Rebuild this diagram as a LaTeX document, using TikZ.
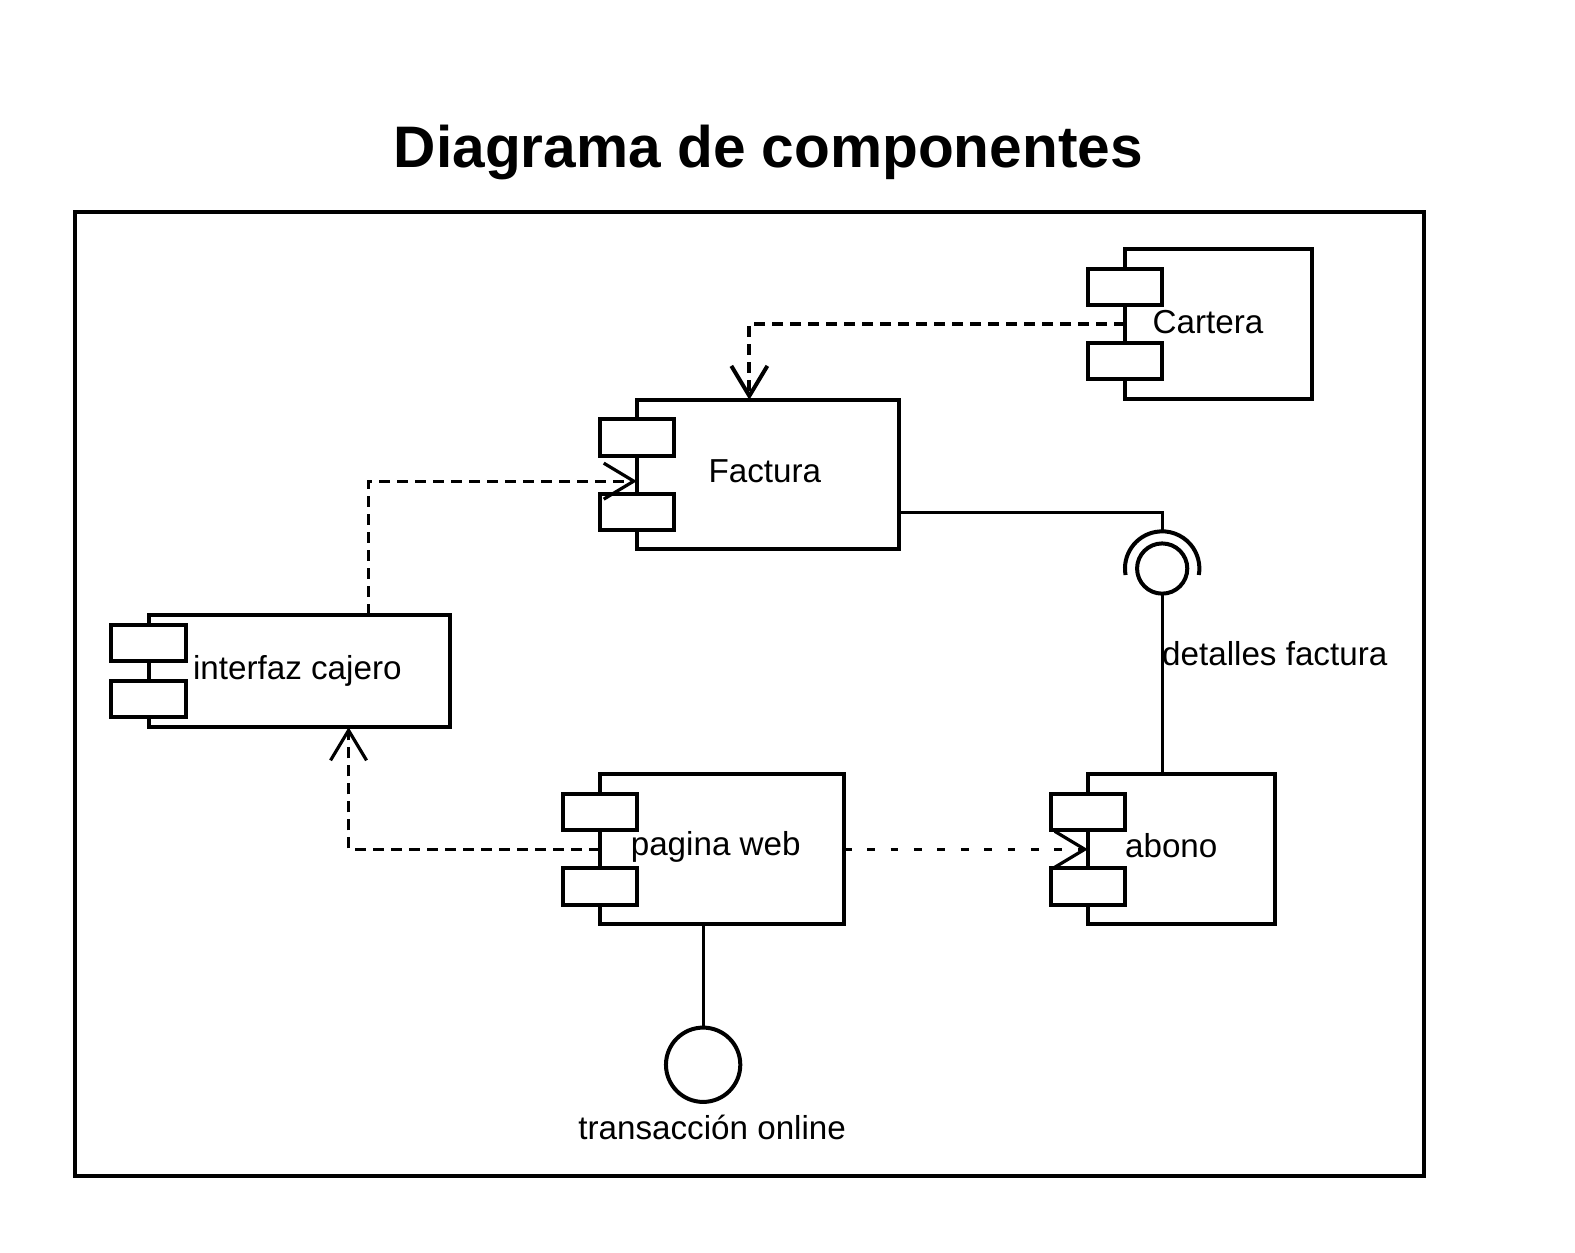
\documentclass[tikz,border=0pt]{standalone}
\usepackage{fontspec}
\setmainfont{Liberation Sans}
\usetikzlibrary{arrows.meta}
\newcommand{\ports}[2]{%
  \draw[port] ([shift={(-37,-#2-36)}]#1.west) rectangle ([shift={(37,-#2)}]#1.west);
  \draw[port] ([shift={(-37,#2)}]#1.west) rectangle ([shift={(37,#2+36)}]#1.west);}
\newcommand{\lift}[2]{\raisebox{#1}[\height][\depth]{#2}}
\begin{document}
\begin{tikzpicture}[x=0.50225pt, y=-0.50225pt, line width=2pt,
    comp/.style 2 args={draw, rectangle, outer sep=0pt, inner sep=0pt, font=\fontsize{16.6pt}{19pt}\selectfont,
      minimum width=#1*0.50225pt, minimum height=#2*0.50225pt},
    port/.style={draw, fill=white},
    dep/.style={line width=1.6pt, dash pattern=on 5.5pt off 3.5pt, -{Straight Barb[length=15pt,width=18pt]}},
    lbl/.style={inner sep=0pt, font=\fontsize{16.6pt}{19pt}\selectfont},
    ball/.style={draw, circle, inner sep=0pt, outer sep=0pt, minimum size=#1*0.50225pt}]
\useasboundingbox (0,0) rectangle (1568,1247);
\node[inner sep=0pt, font=\bfseries\fontsize{29.3pt}{34pt}\selectfont] (title) at (765,152) {Diagrama de componentes};
\draw (75,211) rectangle (1418,1171);

\node[comp={186}{149}] (cartera) at (1213,322.5) {\lift{1pt}{\hspace*{-10.5pt}Cartera}};
\node[comp={261}{149}] (factura) at (764.5,472.5) {\lift{1.5pt}{\hspace*{-3pt}Factura}};
\node[comp={300}{112}] (cajero) at (298,668) {\hspace*{-2pt}interfaz cajero};
\node[comp={243}{149}] (pagina) at (718.5,845.5) {\lift{1pt}{\hspace*{-6pt}pagina web}};
\node[comp={186}{149}] (abono) at (1176,845.5) {\lift{2pt}{\hspace*{-10pt}abono}};
\ports{cartera}{19}
\ports{factura}{19}
\ports{cajero}{9.5}
\ports{pagina}{19}
\ports{abono}{19}

\node[ball=50] (bola) at (1157,566) {};
\coordinate (socket) at (1157,529);
\draw (bola.center) ++(190:18.6pt) arc[start angle=190, end angle=-10, radius=18.6pt];
\draw[line width=1.6pt] ([shift={(0,-37)}]factura.south east) -| (socket);
\draw[line width=1.6pt] (bola.south) -- (bola.south |- abono.north);
\node[lbl, anchor=west] (detalles) at (1155,651) {detalles factura};

\node[ball=74] (iface) at (700,1060) {};
\draw[line width=1.6pt] (iface.north) -- (iface.north |- pagina.south);
\node[lbl] (transaccion) at (709,1122) {transacción online};

\draw[dep, line width=2pt] (cartera.west) -| ([shift={(-18.5,0)}]factura.north);
\draw[dep] ([shift={(69,0)}]cajero.north) |- ([shift={(0,6.5)}]factura.west);
\draw[dep] (pagina.west) -| ([shift={(49,0)}]cajero.south);
\draw[dep, dash pattern=on 3.9pt off 7.8pt] (pagina.east) -- (abono.west);
\end{tikzpicture}
\end{document}
